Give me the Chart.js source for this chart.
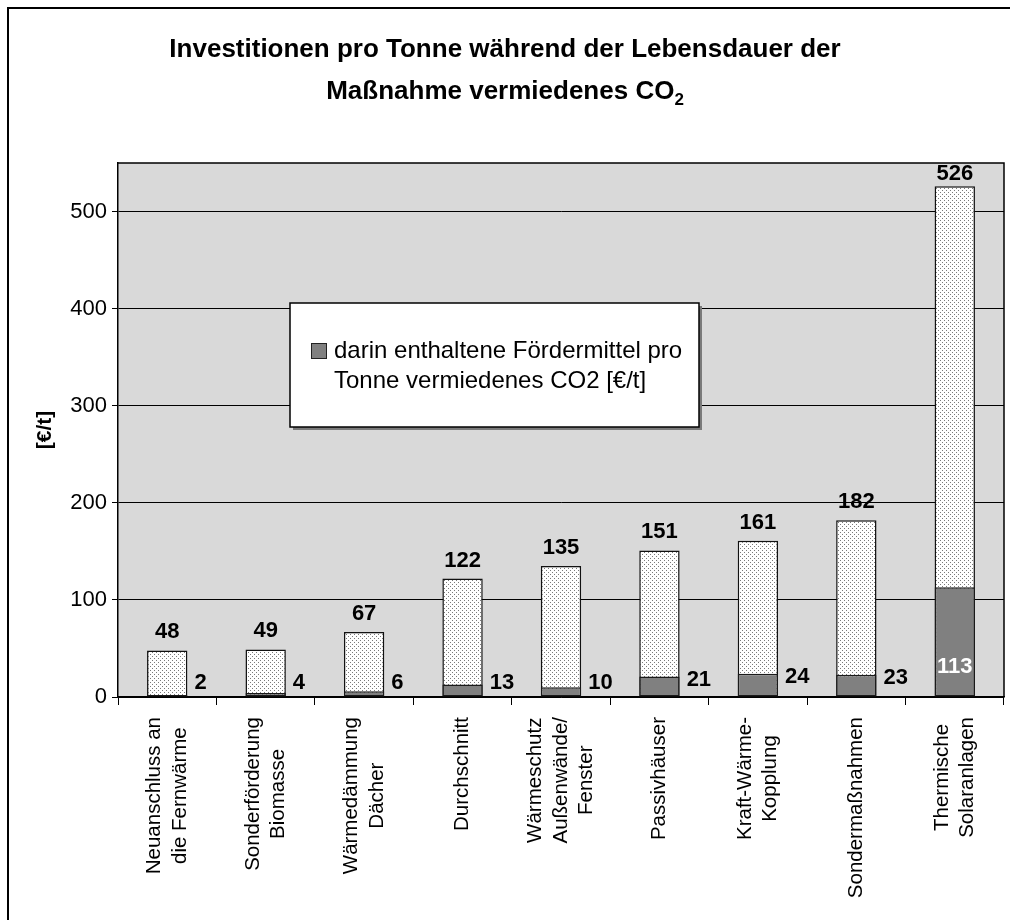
<!DOCTYPE html>
<html>
<head>
<meta charset="utf-8">
<script src="https://cdn.jsdelivr.net/npm/chart.js@4/dist/chart.umd.min.js"></script>
<style>
  html, body { margin: 0; padding: 0; background: #fff; }
  canvas { display: block; }
</style>
</head>
<body>
<canvas id="c" width="1010" height="920"></canvas>
<script>
// ---------- DATA ----------
const categories = [
  ["Neuanschluss an", "die Fernwärme"],
  ["Sonderförderung", "Biomasse"],
  ["Wärmedämmung", "Dächer"],
  ["Durchschnitt"],
  ["Wärmeschutz", "Außenwände/", "Fenster"],
  ["Passivhäuser"],
  ["Kraft-Wärme-", "Kopplung"],
  ["Sondermaßnahmen"],
  ["Thermische", "Solaranlagen"]
];
const totals = [48, 49, 67, 122, 135, 151, 161, 182, 526];
const subsidies = [2, 4, 6, 13, 10, 21, 24, 23, 113];
const yTicks = [0, 100, 200, 300, 400, 500];
const yMax = 550;
const titleLine1 = "Investitionen pro Tonne während der Lebensdauer der";
const titleLine2 = "Maßnahme vermiedenes CO";
const titleSub = "2";
const yTitle = "[€/t]";
const totalLabel = "Investitionen pro Tonne vermiedenes CO2 [€/t]";
const subsidyLegendLines = ["darin enthaltene Fördermittel pro", "Tonne vermiedenes CO2 [€/t]"];
// ---------------------------

const FONT = '"Liberation Sans", Arial, Helvetica, sans-serif';
const canvas = document.getElementById('c');
const ctx0 = canvas.getContext('2d');

const pc = document.createElement('canvas');
pc.width = 4; pc.height = 4;
const pg = pc.getContext('2d');
pg.fillStyle = '#ffffff'; pg.fillRect(0, 0, 4, 4);
pg.fillStyle = '#7a7a7a';
pg.fillRect(0, 0, 1, 1);
pg.fillRect(2, 2, 1, 1);
const dotPattern = ctx0.createPattern(pc, 'repeat');

const PLOT_BG = '#d9d9d9';

const decor = {
  id: 'decor',
  beforeDraw(chart) {
    const ctx = chart.ctx, a = chart.chartArea;
    ctx.save();
    ctx.fillStyle = '#ffffff';
    ctx.fillRect(0, 0, chart.width, chart.height);
    ctx.fillStyle = PLOT_BG;
    ctx.fillRect(a.left, a.top, a.right - a.left, a.bottom - a.top);
    ctx.strokeStyle = '#000';
    ctx.lineWidth = 2;
    ctx.strokeRect(8, 8, 1020, 1020);
    ctx.restore();
  },
  afterDatasetsDraw(chart) {
    const ctx = chart.ctx, a = chart.chartArea;
    const ys = chart.scales.y;
    const mTot = chart.getDatasetMeta(1);
    const mSub = chart.getDatasetMeta(0);
    const y0 = ys.getPixelForValue(0);
    ctx.save();
    ctx.font = 'bold 22px ' + FONT;
    ctx.textBaseline = 'middle';
    for (let i = 0; i < totals.length; i++) {
      const bt = mTot.data[i];
      const yv = ys.getPixelForValue(totals[i]);
      ctx.fillStyle = '#000';
      ctx.textAlign = 'center';
      ctx.fillText(String(totals[i]), bt.x, Math.max(yv - 18, a.top + 11));
      const bs = mSub.data[i];
      const ysv = ys.getPixelForValue(subsidies[i]);
      if (subsidies[i] > 60) {
        ctx.fillStyle = '#fff';
        ctx.textAlign = 'center';
        ctx.fillText(String(subsidies[i]), bs.x, (ysv + y0) / 2 + 25);
      } else {
        ctx.fillStyle = '#000';
        ctx.textAlign = 'left';
        ctx.fillText(String(subsidies[i]), bs.x + bs.width / 2 + 7, Math.min(ysv + 3, y0 - 14));
      }
    }
    // legend box
    const lx = 290, ly = 303, lw = 409, lh = 124;
    ctx.fillStyle = '#7a7a7a';
    ctx.fillRect(lx + 3, ly + 3, lw, lh);
    ctx.fillStyle = '#fff';
    ctx.fillRect(lx, ly, lw, lh);
    ctx.strokeStyle = '#000';
    ctx.lineWidth = 1.5;
    ctx.strokeRect(lx, ly, lw, lh);
    ctx.fillStyle = '#808080';
    ctx.fillRect(311, 343, 16, 16);
    ctx.strokeStyle = '#222';
    ctx.lineWidth = 1;
    ctx.strokeRect(311.5, 343.5, 15, 15);
    ctx.fillStyle = '#000';
    ctx.font = '24px ' + FONT;
    ctx.textAlign = 'left';
    ctx.textBaseline = 'middle';
    ctx.fillText(subsidyLegendLines[0], 334, 351);
    ctx.fillText(subsidyLegendLines[1], 334, 381);
    ctx.restore();
  },
  afterDraw(chart) {
    const ctx = chart.ctx, a = chart.chartArea;
    const xs = chart.scales.x;
    ctx.save();
    ctx.strokeStyle = '#000';
    ctx.lineWidth = 1.5;
    ctx.beginPath();
    ctx.moveTo(a.left, a.top);
    ctx.lineTo(a.right, a.top);
    ctx.lineTo(a.right, a.bottom);
    ctx.stroke();
    // title
    ctx.fillStyle = '#000';
    ctx.textBaseline = 'middle';
    ctx.textAlign = 'center';
    ctx.font = 'bold 26px ' + FONT;
    ctx.fillText(titleLine1, 505, 50);
    const w2 = ctx.measureText(titleLine2).width;
    ctx.font = 'bold 17px ' + FONT;
    const ws = ctx.measureText(titleSub).width;
    const start = 505 - (w2 + ws) / 2;
    ctx.textAlign = 'left';
    ctx.font = 'bold 26px ' + FONT;
    ctx.fillText(titleLine2, start, 92);
    ctx.font = 'bold 17px ' + FONT;
    ctx.fillText(titleSub, start + w2, 100);
    // y title
    ctx.save();
    ctx.translate(45, 430);
    ctx.rotate(-Math.PI / 2);
    ctx.textAlign = 'center';
    ctx.font = 'bold 21px ' + FONT;
    ctx.fillText(yTitle, 0, 0);
    ctx.restore();
    // x labels
    ctx.font = '20.5px ' + FONT;
    ctx.textAlign = 'center';
    ctx.textBaseline = 'middle';
    const lh = 25.5;
    for (let i = 0; i < categories.length; i++) {
      const lines = categories[i];
      const x = xs.getPixelForValue(i);
      let W = 0;
      lines.forEach(l => { W = Math.max(W, ctx.measureText(l).width); });
      lines.forEach((l, j) => {
        const cx = x + (j - (lines.length - 1) / 2) * lh;
        ctx.save();
        ctx.translate(cx, 717 + W / 2);
        ctx.rotate(-Math.PI / 2);
        ctx.fillText(l, 0, 0);
        ctx.restore();
      });
    }
    ctx.restore();
  }
};

new Chart(canvas, {
  type: 'bar',
  data: {
    labels: categories.map(c => c.join(' ')),
    datasets: [
      {
        label: subsidyLegendLines.join(' '),
        data: subsidies,
        backgroundColor: '#808080',
        borderColor: '#1a1a1a',
        borderWidth: 1.5,
        borderSkipped: false,
        grouped: false,
        barPercentage: 0.41,
        categoryPercentage: 1,
        order: 0
      },
      {
        label: totalLabel,
        data: totals,
        backgroundColor: dotPattern,
        borderColor: '#111',
        borderWidth: 1.5,
        borderSkipped: false,
        grouped: false,
        barPercentage: 0.41,
        categoryPercentage: 1,
        order: 1
      }
    ]
  },
  options: {
    responsive: false,
    animation: false,
    devicePixelRatio: 1,
    layout: { padding: { top: 163, right: 6, left: 0, bottom: 0 } },
    plugins: {
      legend: { display: false },
      tooltip: { enabled: false },
      title: { display: false }
    },
    scales: {
      x: {
        offset: true,
        grid: { display: true, drawOnChartArea: false, drawTicks: true, tickLength: 8, color: '#000', lineWidth: 1, offset: true },
        border: { display: true, color: '#000', width: 1.5 },
        ticks: { display: false },
        afterFit(s) { s.height = 223; }
      },
      y: {
        min: 0,
        max: yMax,
        afterBuildTicks(s) { s.ticks = yTicks.map(v => ({ value: v })); },
        grid: { color: '#000', lineWidth: 1, tickLength: 6, drawTicks: true },
        border: { display: true, color: '#000', width: 1.5 },
        ticks: {
          font: { family: FONT, size: 22 },
          color: '#000',
          padding: 5
        },
        afterFit(s) { s.width = 118; }
      }
    }
  },
  plugins: [decor]
});
</script>
</body>
</html>
